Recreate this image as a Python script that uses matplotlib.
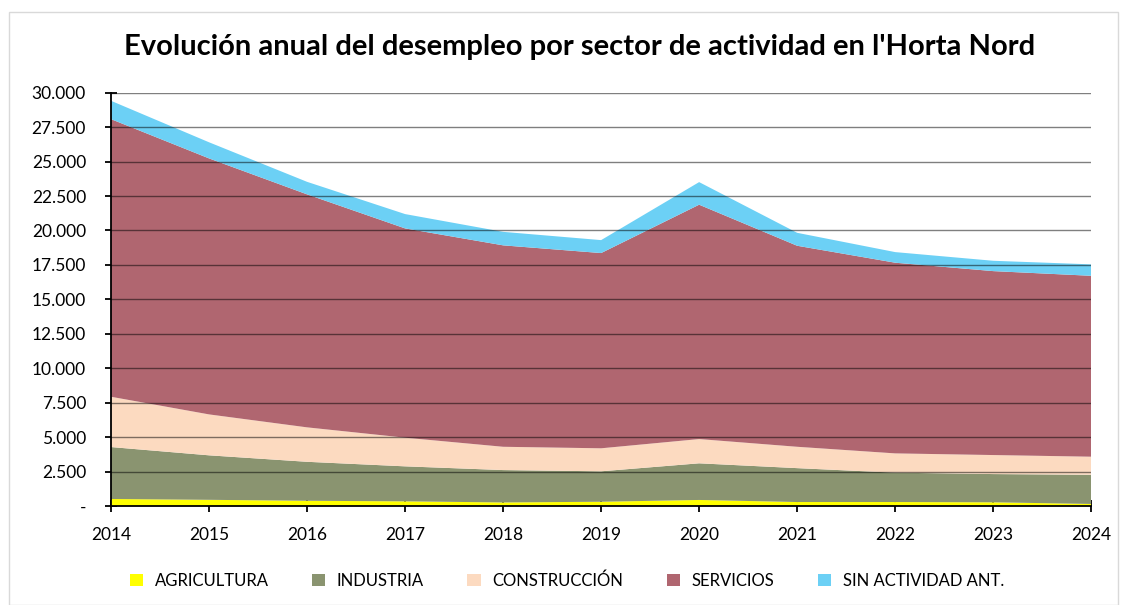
import matplotlib.pyplot as plt
import numpy as np
from matplotlib.patches import Rectangle
from matplotlib.ticker import FuncFormatter, MultipleLocator

years = [2014, 2015, 2016, 2017, 2018, 2019, 2020, 2021, 2022, 2023, 2024]
agricultura = [510, 450, 380, 340, 260, 310, 440, 290, 290, 270, 150]
industria = [3770, 3230, 2830, 2540, 2350, 2210, 2660, 2460, 2130, 2050, 2120]
construccion = [3650, 2970, 2500, 2080, 1690, 1670, 1760, 1550, 1400, 1380, 1310]
servicios = [20150, 18580, 16910, 15190, 14620, 14170, 17010, 14590, 13840, 13350, 13130]
sin_actividad = [1330, 1170, 910, 1040, 980, 940, 1640, 940, 770, 750, 830]

labels = ["AGRICULTURA", "INDUSTRIA", "CONSTRUCCIÓN", "SERVICIOS", "SIN ACTIVIDAD ANT."]
colors = ["#FFFF00", "#8A9470", "#FCDAC0", "#B06670", "#6CD0F5"]

plt.rcParams["font.family"] = ["Lato", "DejaVu Sans"]

fig = plt.figure(figsize=(11.26, 6.05), dpi=100)
ax = fig.add_axes([0.0986, 0.1636, 0.8705, 0.6832])

ax.stackplot(years, agricultura, industria, construccion, servicios, sin_actividad,
             colors=colors, labels=labels, linewidth=0, zorder=2)

# gridlines show through the areas
for v in np.arange(2500, 30001, 2500):
    ax.axhline(v, color="black", alpha=0.5, linewidth=1.0, zorder=3)

ax.set_xlim(2014, 2024)
ax.set_ylim(0, 30000)
ax.set_xticks(years)
ax.yaxis.set_major_locator(MultipleLocator(2500))
ax.yaxis.set_major_formatter(
    FuncFormatter(lambda v, _: "-" if v == 0 else f"{v:,.0f}".replace(",", "."))
)

for side in ["top", "right"]:
    ax.spines[side].set_visible(False)
for side in ["left", "bottom"]:
    ax.spines[side].set_color("black")
    ax.spines[side].set_linewidth(1.3)
    ax.spines[side].set_zorder(4)

ax.tick_params(axis="both", direction="inout", length=8, width=1.3, labelsize=12.5, colors="black")
ax.tick_params(axis="y", pad=14)
ax.tick_params(axis="x", pad=11)

fig.text(0.515, 0.922, "Evolución anual del desempleo por sector de actividad en l'Horta Nord",
         ha="center", va="center", fontsize=21, fontweight="bold", color="black")

ax.legend(loc="center", bbox_to_anchor=(0.465, -0.18), ncol=5, frameon=False,
          fontsize=12, handlelength=0.8, handleheight=0.8, columnspacing=2.6,
          handletextpad=0.7)

fig.patches.append(Rectangle((0.008, 0.0), 0.985, 0.98, transform=fig.transFigure,
                             fill=False, edgecolor="#D9D9D9", linewidth=1.0))

fig.savefig("out.png", dpi=100)
